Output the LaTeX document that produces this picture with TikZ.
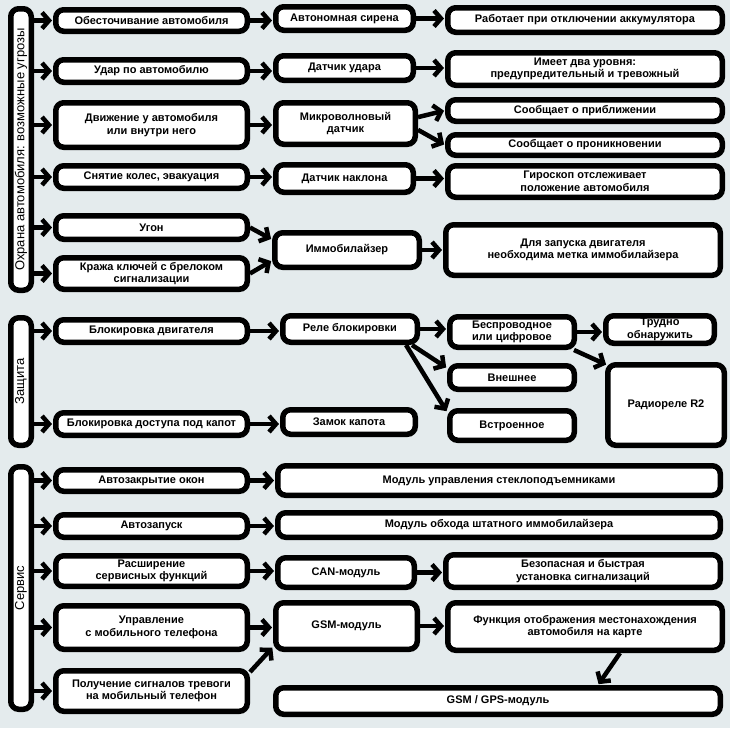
\documentclass[tikz,border=0pt]{standalone}
\usepackage{fontspec}
\setmainfont{Liberation Sans}
\usetikzlibrary{arrows.meta}
\definecolor{bg}{RGB}{228,235,237}
\newcommand\bx[7][box]{\node[#1, minimum width={(#5-#3-5.5)*1pt}, minimum height={(#6-#4-5.5)*1pt}] (#2) at ({(#3+#5)/2},{(#4+#6)/2}) {#7};}
\newcommand\sbar[5]{\node[secbar, rotate=90, minimum width={(#4-#3-5.5)*1pt}, minimum height={(34-8-5.5)*1pt}] (#1) at (21,{(#3+#4)/2}) {#5};}
\begin{document}
\begin{tikzpicture}[x=1pt,y=-1pt,
  box/.style={draw, line width=5.5pt, rounded corners=8pt, fill=white, inner sep=0pt, align=center,
    font=\fontsize{11}{12.5}\selectfont\bfseries},
  secbar/.style={draw, line width=5.5pt, rounded corners=8pt, fill=white, inner sep=0pt,
    font=\fontsize{13}{15}\selectfont},
  arr/.style={line width=4.5pt, -{Straight Barb[length=7pt,width=16pt]}, shorten >=1pt}]
\useasboundingbox[fill=bg] (0,0) rectangle (730,728);
% section bars
\sbar{s1}{}{6}{293}{Охрана автомобиля: возможные угрозы}
\sbar{s2}{}{315}{448}{Защита}
\sbar{s3}{}{464}{712}{Сервис}
% left column
\bx{l1}{53}{7}{250}{34}{Обесточивание автомобиля}
\bx{l2}{53}{57}{250}{85}{Удар по автомобилю}
\bx{l3}{53}{100}{250}{150}{Движение у автомобиля\\или внутри него}
\bx{l4}{53}{163}{250}{191}{Снятие колес, эвакуация}
\bx{l5}{53}{213}{250}{242}{Угон}
\bx{l6}{53}{255}{250}{292}{Кража ключей с брелоком\\сигнализации}
\bx{l7}{53}{317}{250}{345}{Блокировка двигателя}
\bx{l8}{53}{410}{250}{438}{Блокировка доступа под капот}
\bx{l9}{53}{467}{250}{494}{Автозакрытие окон}
\bx{l10}{53}{512}{250}{540}{Автозапуск}
\bx{l11}{53}{553}{250}{589}{Расширение\\сервисных функций}
\bx{l12}{53}{603}{250}{652}{Управление\\с мобильного телефона}
\bx{l13}{53}{668}{250}{714}{Получение сигналов тревоги\\на мобильный телефон}
% middle column
\bx{m1}{273}{4}{416}{33}{Автономная сирена}
\bx{m2}{273}{53}{416}{83}{Датчик удара}
\bx{m3}{273}{100}{418}{147}{Микроволновый\\датчик}
\bx{m4}{273}{162}{416}{195}{Датчик наклона}
\bx{m5}{272}{230}{422}{270}{Иммобилайзер}
\bx{m6}{280}{313}{420}{345}{Реле блокировки}
\bx{m7}{280}{407}{418}{437}{Замок капота}
\bx{m8}{275}{463}{723}{498}{Модуль управления стеклоподъемниками}
\bx{m9}{275}{510}{723}{540}{Модуль обхода штатного иммобилайзера}
\bx{m10}{275}{555}{417}{590}{CAN-модуль}
\bx{m11}{273}{600}{420}{652}{GSM-модуль}
\bx{m12}{273}{685}{723}{717}{GSM / GPS-модуль}
% right column
\bx{r1}{445}{5}{725}{35}{Работает при отключении аккумулятора}
\bx{r2}{445}{50}{725}{88}{Имеет два уровня:\\предупредительный и тревожный}
\bx{r3}{445}{97}{725}{124}{Сообщает о приближении}
\bx{r4}{445}{132}{725}{158}{Сообщает о проникновении}
\bx{r5}{445}{163}{725}{200}{Гироскоп отслеживает\\положение автомобиля}
\bx{r6}{443}{222}{723}{278}{Для запуска двигателя\\необходима метка иммобилайзера}
\bx{r7}{447}{314}{577}{350}{Беспроводное\\или цифровое}
\bx{r8}{603}{313}{717}{346}{Трудно\\обнаружить}
\bx{r9}{447}{363}{577}{392}{Внешнее}
\bx{r10}{447}{408}{577}{443}{Встроенное}
\bx{r11}{605}{362}{727}{448}{Радиореле R2}
\bx{r12}{443}{552}{723}{590}{Безопасная и быстрая\\установка сигнализаций}
\bx{r13}{445}{600}{725}{653}{Функция отображения местонахождения\\автомобиля на карте}
% bar arrows
\foreach \b in {l1,l2,l3,l4,l5,l6} \draw[arr] (s1.south |- \b.west) -- (\b.west);
\foreach \b in {l7,l8} \draw[arr] (s2.south |- \b.west) -- (\b.west);
\foreach \b in {l9,l10,l11,l12,l13} \draw[arr] (s3.south |- \b.west) -- (\b.west);
% horizontal arrows
\foreach \a/\b in {l1/m1,l2/m2,l3/m3,l4/m4,l7/m6,l8/m7,l9/m8,l10/m9,l11/m10,l12/m11,
  m1/r1,m2/r2,m4/r5,m5/r6,m6/r7,m10/r12,m11/r13,r7/r8}
  \draw[arr] (\a.east) -- (\a.east -| \b.west);
% diagonal arrows
\draw[arr] (l5.east) -- (m5.172);
\draw[arr] (l6.east) -- (m5.188);
\draw[arr] (m3.5) -- (r3.west);
\draw[arr] (m3.-5) -- (r4.west);
\draw[arr] ([xshift=-8pt]m6.south east) -- ([yshift=-5pt]r9.north west);
\draw[arr] ([xshift=-14pt]m6.south east) -- ([yshift=-4pt]r10.north west);
\draw[arr] ([xshift=-3pt]r7.south east) -- ([shift={(2pt,-3pt)}]r11.north west);
\draw[arr] ([yshift=-4pt]l13.north east) -- ([yshift=5pt]m11.south west);
\draw[arr] ([xshift=35pt]r13.south) -- ([xshift=100pt]m12.north);
\end{tikzpicture}
\end{document}
